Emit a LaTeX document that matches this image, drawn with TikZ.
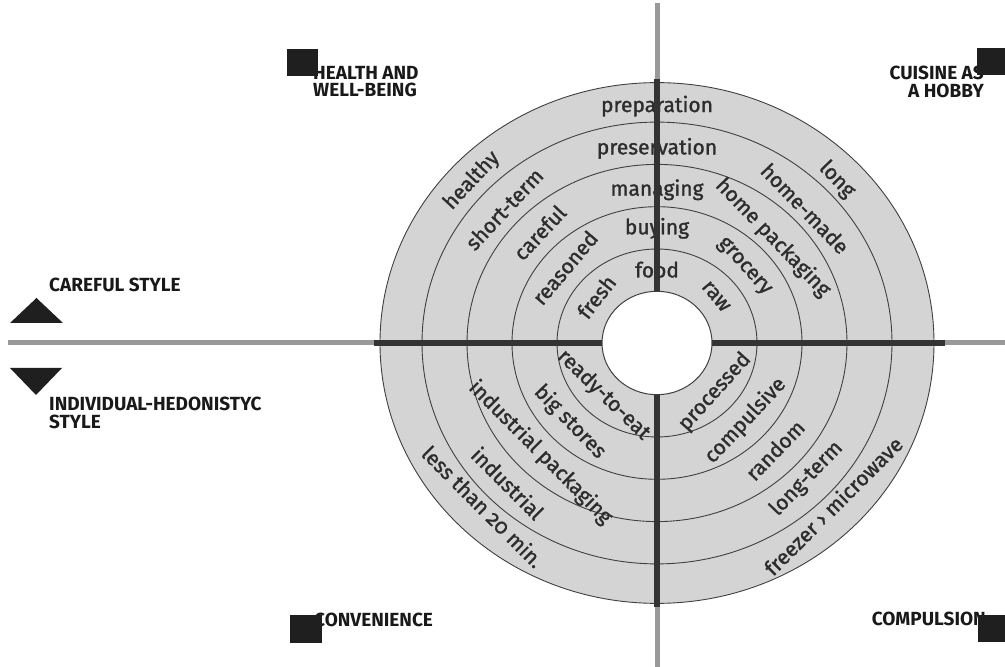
\documentclass[tikz,border=0pt]{standalone}
\usepackage{fontspec}
\setmainfont{Fira Sans}
\newfontfamily\ringfont[Numbers=OldStyle,FakeBold=1.3]{Fira Sans}
\definecolor{disk}{RGB}{212,212,212}
\definecolor{ink}{RGB}{45,45,45}
\tikzset{
  ring/.style={draw=black!75, line width=0.9pt},
  lbl/.style={font=\ringfont\fontsize{21}{23}\selectfont, text=ink, inner sep=0pt},
  corner/.style={font=\bfseries\fontsize{19}{17.5}\selectfont, text=black!90, inner sep=0pt, align=left},
  cornerr/.style={corner, align=right},
  marker/.style={fill=black!88, draw=none},
  axisout/.style={draw=black!40, line width=5pt},
  axisin/.style={draw=black!80, line width=6pt},
}
\begin{document}
\begin{tikzpicture}[x=1pt,y=1pt]
\useasboundingbox (0,0) rectangle (1005,667);
\coordinate (C) at (657,324);
% disk and rings
\begin{scope}[shift={(C)}, yscale=0.94]
  \fill[disk] (0,0) circle[radius=277];
  \foreach \r in {100,145,190,235} \draw[ring] (0,0) circle[radius=\r];
  \draw[ring] (0,0) circle[radius=277];
  % top centre
  \node[lbl] (preparation) at (90:252) {preparation};
  \node[lbl] (preservation) at (90:207) {preservation};
  \node[lbl] (managing) at (90:163) {managing};
  \node[lbl] (buying) at (90:122) {buying};
  \node[lbl] (food) at (90:78) {food};
  % upper left
  \node[lbl, rotate=47] (healthy) at (137:253) {healthy};
  \node[lbl, rotate=47] (shortterm) at (137:209) {short-term};
  \node[lbl, rotate=47] (careful) at (135:166) {careful};
  \node[lbl, rotate=50] (reasoned) at (139:122) {reasoned};
  \node[lbl, rotate=52] (fresh) at (141:78) {fresh};
  % upper right
  \node[lbl, rotate=-46] (long) at (44:250) {long};
  \node[lbl, rotate=-46] (homemade) at (44:206) {home-made};
  \node[lbl, rotate=-46] (homepack) at (44:161) {home packaging};
  \node[lbl, rotate=-48] (grocery) at (43:119) {grocery};
  \node[lbl, rotate=-50] (raw) at (40:77) {raw};
  % lower left
  \node[lbl, rotate=-45] (less) at (225:246) {less than 20 min.};
  \node[lbl, rotate=-45] (industrial) at (225:211) {industrial};
  \node[lbl, rotate=-45] (indpack) at (225:165) {industrial packaging};
  \node[lbl, rotate=-46] (bigstores) at (224:121) {big stores};
  \node[lbl, rotate=-44] (ready) at (226:77) {ready-to-eat};
  % lower right
  \node[lbl, rotate=45] (freezer) at (315.5:247) {freezer › microwave};
  \node[lbl, rotate=46] (longterm) at (316:208) {long-term};
  \node[lbl, rotate=46] (random) at (316:164) {random};
  \node[lbl, rotate=47] (compulsive) at (317:121) {compulsive};
  \node[lbl, rotate=48] (processed) at (318:78) {processed};
\end{scope}
% axes
\coordinate (Lend) at (8,324);
\coordinate (Rend) at (1005,324);
\coordinate (Tend) at (657,664);
\coordinate (Bend) at (657,0);
\coordinate (Lin) at (374,324);
\coordinate (Rin) at (945,324);
\coordinate (Tin) at (657,588);
\coordinate (Bin) at (657,60);
\draw[axisout] (Lend) -- (Rend);
\draw[axisout] (Bend) -- (Tend);
\draw[axisin] (Lin) -- (Rin);
\draw[axisin] (Bin) -- (Tin);
% hole
\begin{scope}[shift={(C)}, yscale=0.94]
  \filldraw[fill=white, draw=black!75, line width=1pt] (0,0) circle[radius=55];
\end{scope}
% corner labels
\node[corner, anchor=north west] (health) at (313,601) {HEALTH AND\\WELL-BEING};
\fill[marker] (287,591) rectangle (318,618);
\node[cornerr, anchor=north east] (cuisine) at (984,601) {CUISINE AS\\A HOBBY};
\fill[marker] (977,592) rectangle (1005,619);
\node[corner, anchor=north west] (careful style) at (49,389) {CAREFUL STYLE};
\fill[marker] (10,344) -- (63,344) -- (36.5,369) -- cycle;
\fill[marker] (10,299) -- (62,299) -- (36,272) -- cycle;
\node[corner, anchor=north west] (hedon) at (49,270) {INDIVIDUAL-HEDONISTYC\\STYLE};
\node[corner, anchor=north west] (convenience) at (314,54) {CONVENIENCE};
\fill[marker] (290,24) rectangle (322,52);
\node[cornerr, anchor=north east] (compulsion) at (986,55) {COMPULSION};
\fill[marker] (978,25) rectangle (1005,52);
\end{tikzpicture}
\end{document}
